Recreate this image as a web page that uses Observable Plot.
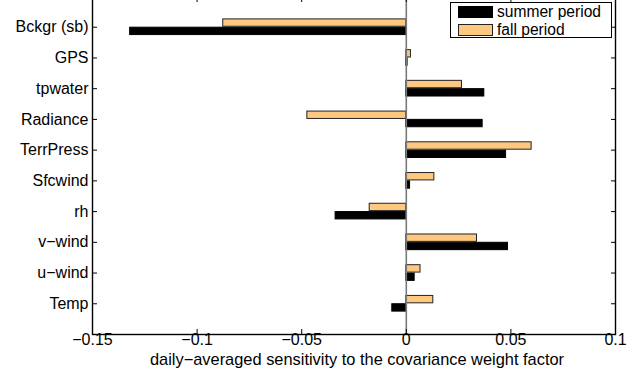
<!DOCTYPE html>
<html>
<head>
<meta charset="utf-8">
<script src="https://cdn.jsdelivr.net/npm/d3@7"></script>
<script src="https://cdn.jsdelivr.net/npm/@observablehq/plot@0.6"></script>
<style>
  html, body { margin: 0; padding: 0; background: #fff; }
  #wrap { position: relative; width: 640px; height: 372px; overflow: hidden; font-family: "Liberation Sans", Arial, sans-serif; }
  #chart svg { display: block; margin-top: -4px; }
  #legend { position: absolute; left: 450px; top: 2px; width: 162px; height: 36px; border: 1.3px solid #000; background: #fff; box-sizing: border-box; font-size: 15.6px; }
  .item { position: absolute; left: 7px; height: 13px; display: flex; align-items: center; }
  .sw { width: 35px; height: 12px; box-sizing: border-box; border: 1px solid #222; }
  .lab { margin-left: 4px; line-height: 13px; white-space: nowrap; }
</style>
</head>
<body>
<div id="wrap">
  <div id="chart"></div>
  <div id="legend"></div>
</div>
<script>
// categories from bottom (1) to top (10)
const categories = ["Temp", "u\u2212wind", "v\u2212wind", "rh", "Sfcwind", "TerrPress", "Radiance", "tpwater", "GPS", "Bckgr (sb)"];
const seriesNames = ["summer period", "fall period"];
const summer = [-0.0067, 0.0040, 0.0486, -0.0338, 0.0018, 0.0477, 0.0365, 0.0373, 0.0006, -0.1320];
const fall   = [0.0129, 0.0068, 0.0338, -0.0175, 0.0134, 0.0599, -0.0473, 0.0266, 0.0022, -0.0875];
const xTicks = [-0.15, -0.1, -0.05, 0, 0.05, 0.1];
const xTickLabels = ["\u22120.15", "\u22120.1", "\u22120.05", "0", "0.05", "0.1"];
const xLabel = "daily\u2212averaged sensitivity to the covariance weight factor";

const colors = {"summer period": "#000000", "fall period": "#FFC880"};
const strokes = {"summer period": "#000000", "fall period": "#222222"};

const rows = [];
categories.forEach((c, i) => {
  rows.push({cat: c, idx: i + 1, series: "summer period", value: summer[i]});
  rows.push({cat: c, idx: i + 1, series: "fall period", value: fall[i]});
});
const off = {"summer period": -0.135, "fall period": 0.135};
const half = 0.12;
const yTicks = categories.map((c, i) => i + 1);

const font = "Liberation Sans, Arial, sans-serif";

const chart = Plot.plot({
  width: 640,
  height: 376,
  marginLeft: 92,
  marginRight: 25,
  marginTop: 0,
  marginBottom: 38,
  style: {fontFamily: font, fontSize: "16.4px", background: "white", color: "black", overflow: "visible"},
  x: {domain: [-0.15, 0.1]},
  y: {domain: [0, 11]},
  marks: [
    Plot.rect(rows, {
      x1: d => 0,
      x2: "value",
      y1: d => d.idx + off[d.series] - half,
      y2: d => d.idx + off[d.series] + half,
      fill: d => colors[d.series],
      stroke: d => strokes[d.series],
      strokeWidth: 1
    }),
    Plot.ruleX([0], {stroke: "#7a7a7a", strokeWidth: 1.6}),
    Plot.axisY({anchor: "left", ticks: yTicks, tickSize: -5, tickPadding: 9, tickFormat: i => categories[i - 1], label: null, fontSize: 16}),
    Plot.axisY({anchor: "right", ticks: yTicks, tickSize: -5, tickFormat: () => "", label: null}),
    Plot.axisX({anchor: "bottom", ticks: xTicks, tickSize: -5, tickPadding: 4.5, tickFormat: v => xTickLabels[xTicks.findIndex(t => Math.abs(t - v) < 1e-9)], label: null, fontSize: 16}),
    Plot.axisX({anchor: "top", ticks: xTicks, tickSize: -5, tickFormat: () => "", label: null}),
    Plot.frame({stroke: "black", strokeWidth: 1.4}),
    Plot.text([xLabel], {frameAnchor: "bottom", dx: 3, dy: 30, fontSize: 16.4, fill: "black"})
  ]
});
document.getElementById("chart").appendChild(chart);

const legend = document.getElementById("legend");
seriesNames.forEach((s, i) => {
  const item = document.createElement("div");
  item.className = "item";
  item.style.top = (i === 0 ? 2 : 20) + "px";
  const sw = document.createElement("div");
  sw.className = "sw";
  sw.style.background = colors[s];
  sw.style.borderColor = strokes[s];
  const lab = document.createElement("span");
  lab.className = "lab";
  lab.textContent = s;
  item.appendChild(sw);
  item.appendChild(lab);
  legend.appendChild(item);
});
</script>
</body>
</html>
